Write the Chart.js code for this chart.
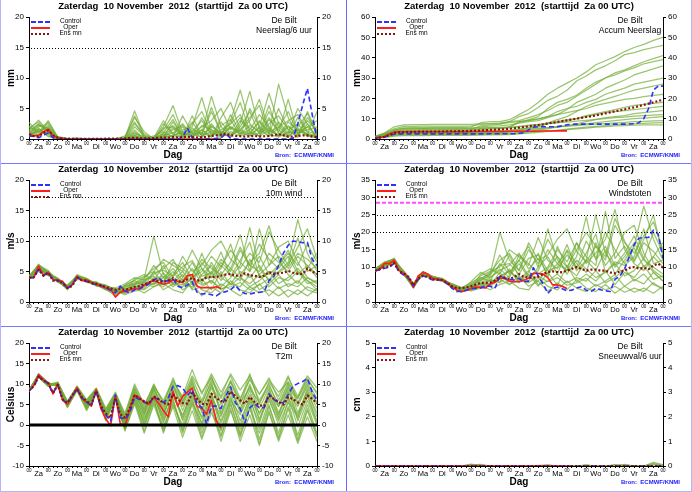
<!DOCTYPE html>
<html><head><meta charset="utf-8">
<script src="https://cdn.jsdelivr.net/npm/chart.js@4.4.0/dist/chart.umd.min.js"></script>
<style>
html,body{margin:0;padding:0;background:#fff;}
#wrap{position:relative;width:692px;height:492px;overflow:hidden;background:#fff;}
.pn{position:absolute;}
.pn canvas{display:block;}
.ln{position:absolute;}
</style></head><body>
<div id="wrap">
 <div class="pn" style="left:0;top:0"><canvas id="c1" width="346" height="163"></canvas></div>
 <div class="pn" style="left:346px;top:0"><canvas id="c2" width="346" height="163"></canvas></div>
 <div class="pn" style="left:0;top:163px"><canvas id="c3" width="346" height="163"></canvas></div>
 <div class="pn" style="left:346px;top:163px"><canvas id="c4" width="346" height="163"></canvas></div>
 <div class="pn" style="left:0;top:326px"><canvas id="c5" width="346" height="166"></canvas></div>
 <div class="pn" style="left:346px;top:326px"><canvas id="c6" width="346" height="166"></canvas></div>
 <div class="ln" style="left:346px;top:0;width:1px;height:492px;background:#6a6aff"></div>
 <div class="ln" style="left:0;top:163px;width:692px;height:1px;background:#7a7aff"></div>
 <div class="ln" style="left:0;top:326px;width:692px;height:1px;background:#7a7aff"></div>
 <div class="ln" style="left:0;top:0;width:1px;height:492px;background:#b4b4ff"></div>
 <div class="ln" style="left:691px;top:0;width:1px;height:492px;background:#b4b4ff"></div>
 <div class="ln" style="left:0;top:491px;width:692px;height:1px;background:#b4b4ff"></div>
</div>
<script>
// ---------- labels ----------
const DAYS = ['Za','Zo','Ma','Di','Wo','Do','Vr','Za','Zo','Ma','Di','Wo','Do','Vr','Za'];
const TITLE = 'Zaterdag  10 November  2012  (starttijd  Za 00 UTC)';
const LEGEND = ['Control','Oper','Ens mn'];

// ---------- Neerslag/6 uur (mm), main lines every 6 h, members every 12 h ----------
const precipControl = [0.5,0.4,0.2,0.6,1.0,0.2,0,0,0,0,0,0,0,0,0,0,0,0,0,0,0,0,0,0,0,0,0,0,0,0,0,0,0.3,1.8,0.2,0,0,0,0,0.1,0.2,0.9,0.1,0,0,0,0,0,0,0,0,0,0,0,0,0.1,2.5,5.5,8.3,4.0,0];
const precipOper = [0.8,0.5,0.6,1.2,1.6,0.5,0.2,0.1,0,0,0,0,0,0,0,0,0,0,0,0,0,0,0,0,0,0,0,0,0,0,0,0,0,0,0,0,0,0,0,0,0];
const precipMean = [0.8,0.5,0.4,1.0,1.4,0.6,0.2,0.1,0.05,0.05,0.03,0.03,0.02,0.02,0.02,0.03,0.05,0.05,0.08,0.08,0.1,0.15,0.2,0.15,0.1,0.12,0.15,0.2,0.25,0.2,0.3,0.25,0.3,0.35,0.3,0.25,0.3,0.35,0.5,0.6,0.7,0.9,0.6,0.5,0.45,0.4,0.45,0.5,0.4,0.45,0.5,0.6,0.8,0.6,0.4,0.4,0.5,0.6,0.6,0.4,0.3];
const precipMembers = [
 [1.0,2.5,0.8,0.2,0,0,0,0,0,0,0.2,4.6,0.5,0.2,0.8,2.2,0.5,1.2,3.0,0.6,1.5,2.5,4.0,1.0,0.5,3.2,1.5,0.3,2.0,4.2,0.5],
 [2.7,1.0,3.0,0.3,0,0.1,0,0,0,0,0,3.8,0.3,0,2.0,5.5,1.0,0.4,1.0,7.0,2.0,0.5,1.5,3.5,5.5,0.8,0.3,1.2,0.5,2.5,0.2],
 [0.5,1.5,1.8,0.1,0,0,0,0,0,0,0,1.5,0,0.5,1.2,0.3,3.8,1.0,0.2,2.2,0.8,3.0,8.0,2.5,1.0,1.8,0.5,2.8,1.5,0.4,1.0],
 [1.5,3.1,1.2,0.4,0.1,0,0,0,0,0,0,0.5,0.2,0,0.3,2.8,0.5,2.5,4.5,1.0,0.2,1.2,0.5,5.0,2.0,7.5,2.5,0.6,3.5,1.0,0.3],
 [0.8,2.0,2.5,0.2,0,0,0,0,0,0,0,2.5,0.8,0.1,0.5,1.0,2.5,0.5,1.5,0.3,3.5,6.0,1.5,0.8,3.0,1.0,9.0,3.5,0.7,2.0,0.5],
 [1.2,0.5,1.5,0.2,0,0,0,0,0,0,0,0.3,0,0.2,3.0,0.8,0.3,3.8,0.5,2.0,1.0,0.3,2.5,7.8,1.5,0.5,1.8,4.5,1.0,3.0,1.5],
 [0.3,1.8,0.5,0.1,0,0,0,0,0,0,0.5,3.5,1.2,0,0.2,0.5,1.5,2.0,6.8,1.5,0.5,2.0,0.8,1.5,4.0,2.0,0.5,1.0,5.0,2.5,0.2],
 [2.0,1.2,2.2,0.3,0,0,0,0.1,0,0,0,1.0,0.2,0.3,1.5,4.0,0.5,0.8,2.0,3.0,5.0,1.5,3.5,0.5,1.0,4.5,2.0,0.5,1.5,0.8,4.5],
 [0.6,1.3,0.8,0,0,0,0,0,0,0,0,0.2,0,0,0.5,1.8,0.3,1.5,0.8,4.5,1.0,2.5,6.0,1.2,0.5,2.5,3.8,1.5,0.3,4.5,1.0],
 [1.8,2.8,1.0,0.2,0,0.2,0,0,0,0,0,2.0,0.5,0,2.5,0.8,2.0,0.3,1.5,0.5,2.8,0.8,1.5,3.0,6.5,1.5,0.5,2.0,1.0,1.5,2.0],
 [0.4,0.8,1.2,0.1,0,0,0,0,0,0,0,0.5,0,0,0.2,0.6,1.0,2.8,0.5,1.2,0.4,4.0,1.0,0.5,2.0,0.8,5.0,1.5,2.5,0.5,0.2],
 [1.0,2.2,1.8,0.3,0,0,0,0,0,0,0,1.2,0,0,1.0,3.2,0.2,0.5,3.5,0.8,1.2,0.5,2.0,4.5,0.8,3.5,1.0,6.5,0.8,2.0,3.0],
 [2.2,0.5,2.8,0.2,0,0,0,0,0,0,0,0.8,0.4,0,0.5,0.3,0.5,1.2,0.3,2.5,0.5,1.8,0.8,2.2,1.2,5.5,0.8,0.3,1.8,0.6,0.5],
 [0.7,1.6,0.4,0,0,0,0,0,0,0,0,0.3,0,0,0.2,1.5,2.2,0.8,1.0,0.4,2.2,3.2,0.5,1.0,2.8,1.0,2.0,3.0,4.0,1.2,0.8],
 [1.4,2.4,1.5,0.2,0,0,0,0,0,0,0.3,2.8,0.2,0,0.8,0.5,1.2,0.4,2.2,1.5,0.8,0.5,3.0,1.8,0.4,1.5,0.6,2.2,0.5,3.5,1.2],
 [0.9,1.1,2.0,0.1,0,0,0,0,0,0,0,0.6,0,0,1.8,2.0,0.8,1.8,0.6,5.2,1.0,2.0,1.2,0.6,1.8,0.4,2.8,1.0,1.5,0.8,0.3]
];

// ---------- Accum Neerslag (mm) ----------
const accControl = [0.5,0.8,1.0,1.8,2.3,2.5,2.5,2.5,2.5,2.5,2.5,2.5,2.5,2.5,2.5,2.5,2.5,2.5,2.5,2.5,2.5,2.5,2.5,2.5,2.6,2.6,2.6,2.6,2.6,2.6,2.8,3.0,4.5,5.8,6.0,6.0,6.0,6.0,6.1,6.5,7.0,7.2,7.3,7.3,7.3,7.3,7.3,7.3,7.3,7.3,7.3,7.3,7.3,7.4,7.5,8.0,10.0,15.0,24.0,26.0,26.0];
const accOper = [0.5,0.8,1.2,2.5,3.3,3.5,3.6,3.6,3.6,3.6,3.6,3.6,3.6,3.6,3.6,3.6,3.6,3.6,3.6,3.6,3.7,3.7,3.7,3.7,3.7,3.7,3.7,3.7,3.8,3.8,3.8,3.8,3.8,3.8,3.9,3.9,3.9,3.9,4.0,4.0,4.0];
const accMean = [0.5,0.7,1.0,2.0,3.0,3.3,3.4,3.5,3.5,3.6,3.6,3.6,3.7,3.7,3.7,3.8,3.8,3.8,3.9,3.9,4.0,4.1,4.2,4.3,4.5,4.6,4.7,4.8,5.0,5.3,5.6,5.9,6.2,6.6,6.9,7.2,7.6,8.0,8.4,8.8,9.2,9.6,10.0,10.4,10.8,11.2,11.6,12.1,12.6,13.1,13.6,14.1,14.6,15.1,15.6,16.2,16.8,17.4,18.0,18.7,19.3];
const accMembers = [
 [1.0,2.5,4.5,5.5,5.6,5.6,5.7,5.7,5.7,5.7,5.8,8.0,8.5,8.6,9.5,12.0,14.5,18.0,22.0,25.0,27.5,30.0,33.0,36.5,38.5,40.5,43.0,45.0,46.5,48.5,50.0],
 [0.8,2.0,3.5,4.2,4.3,4.3,4.3,4.4,4.4,4.4,4.5,6.5,7.0,7.2,8.5,11.0,12.5,15.5,19.0,21.0,24.0,28.5,31.0,34.0,36.0,38.5,41.5,42.5,44.0,45.0,46.0],
 [1.2,3.0,6.0,7.0,7.1,7.1,7.2,7.2,7.2,7.2,7.2,7.5,7.6,7.8,8.5,9.0,10.5,12.0,14.0,16.5,18.0,21.0,24.0,27.0,30.0,32.5,34.0,36.0,38.0,39.5,41.0],
 [0.5,1.8,3.0,3.8,3.8,3.9,3.9,3.9,4.0,4.0,4.0,5.2,5.5,5.5,6.0,8.0,9.5,11.0,15.0,18.0,19.5,21.5,25.0,28.0,30.0,31.5,33.5,35.0,37.0,38.0,39.0],
 [1.0,2.2,4.0,5.0,5.0,5.1,5.1,5.1,5.1,5.1,5.2,6.0,6.3,6.4,7.0,7.8,8.5,9.0,10.5,12.0,14.5,18.0,20.0,22.0,25.0,27.0,29.0,31.5,33.0,34.5,36.0],
 [0.6,1.5,2.5,3.0,3.0,3.0,3.1,3.1,3.1,3.1,3.1,4.5,5.0,5.0,5.8,8.5,9.2,10.0,11.0,13.5,15.0,16.0,18.0,19.5,22.0,23.5,25.0,27.0,28.0,29.0,30.0],
 [0.4,1.2,2.2,2.6,2.6,2.7,2.7,2.7,2.7,2.7,2.8,2.9,3.0,3.0,3.5,4.2,5.5,6.5,8.0,9.5,11.0,13.5,16.0,18.0,19.5,21.0,22.5,24.0,25.0,26.0,27.0],
 [1.4,2.8,5.0,6.2,6.2,6.3,6.3,6.3,6.3,6.3,6.4,7.2,7.5,7.6,8.0,8.6,9.0,9.8,11.0,12.0,13.0,14.0,15.0,16.5,17.5,18.5,19.5,20.0,20.8,21.5,22.0],
 [0.7,1.6,2.8,3.3,3.3,3.3,3.3,3.4,3.4,3.4,3.4,3.6,3.7,3.7,4.0,5.0,5.5,6.0,7.5,8.0,9.0,10.0,11.5,12.5,13.5,14.5,15.5,16.5,17.0,17.5,18.0],
 [0.9,2.0,3.8,4.5,4.5,4.6,4.6,4.6,4.6,4.6,4.7,5.0,5.2,5.2,5.5,6.0,6.8,7.2,7.8,8.5,9.5,10.0,11.0,12.0,13.0,13.5,14.0,14.5,15.0,15.5,16.0],
 [0.3,0.9,1.6,2.0,2.0,2.0,2.0,2.1,2.1,2.1,2.1,2.3,2.4,2.4,2.6,3.0,3.8,4.5,5.0,6.0,6.5,7.5,8.5,9.5,10.5,11.0,11.5,12.5,13.0,13.5,14.0],
 [1.1,2.3,4.2,5.2,5.2,5.2,5.3,5.3,5.3,5.3,5.3,5.5,5.6,5.6,5.8,6.2,6.5,7.0,7.5,8.0,8.3,8.8,9.2,9.6,10.0,10.5,10.8,11.2,11.5,11.8,12.0],
 [0.5,1.4,2.4,2.9,2.9,2.9,3.0,3.0,3.0,3.0,3.0,3.2,3.3,3.3,3.5,4.0,4.5,5.0,5.5,6.0,6.5,7.0,7.5,8.0,8.5,9.0,9.5,10.0,10.3,10.6,11.0],
 [0.8,1.8,3.2,3.8,3.8,3.8,3.8,3.9,3.9,3.9,3.9,4.0,4.1,4.1,4.3,4.6,5.0,5.3,5.6,6.0,6.3,6.6,7.0,7.3,7.6,7.9,8.2,8.5,8.7,8.9,9.0],
 [0.3,0.8,1.4,1.7,1.7,1.7,1.8,1.8,1.8,1.8,1.8,1.9,2.0,2.0,2.2,2.5,2.9,3.3,3.8,4.3,4.8,5.3,5.8,6.2,6.6,7.0,7.3,7.5,7.7,7.9,8.0],
 [0.6,1.2,2.0,2.4,2.4,2.4,2.4,2.4,2.5,2.5,2.5,2.6,2.6,2.7,2.9,3.1,3.4,3.7,4.0,4.3,4.6,5.0,5.4,5.8,6.1,6.4,6.6,6.8,6.9,7.0,7.0]
];

// ---------- 10m wind (m/s) ----------
const windControl = [4.0,4.0,5.5,4.3,4.8,3.8,3.5,3.2,2.2,2.8,4.2,3.5,3.4,3.0,2.9,2.7,2.4,1.9,1.5,2.6,1.8,1.5,2.0,2.2,2.5,3.0,3.6,4.0,3.3,3.5,3.8,2.6,2.3,2.8,3.3,1.6,1.3,1.4,1.2,1.0,1.5,1.7,2.0,2.7,1.8,1.4,1.3,1.5,1.6,1.7,3.5,4.2,6.0,8.0,9.3,10.0,9.9,9.7,9.8,7.0,6.0];
const windOper = [4.0,4.0,5.9,4.4,4.9,3.6,3.6,3.4,2.3,2.8,4.2,3.5,3.6,3.2,2.9,2.6,2.3,2.1,0.8,1.6,1.8,2.0,2.2,2.1,2.8,3.2,3.5,3.2,2.9,3.1,3.6,3.4,3.2,4.3,4.5,2.6,2.3,2.4,2.3,2.5,2.2];
const windMean = [4.0,4.1,5.3,4.3,4.8,3.5,3.5,3.1,2.3,2.6,4.0,3.6,3.5,3.1,3.0,2.7,2.5,2.2,2.0,2.2,2.0,2.2,2.5,2.6,2.9,3.2,3.6,3.4,3.3,3.5,3.9,3.4,3.3,3.7,3.9,3.5,3.6,4.0,4.1,4.1,4.3,4.5,4.6,4.3,4.3,4.7,4.4,4.3,4.1,4.3,4.9,4.6,4.7,4.8,5.1,4.8,4.6,4.6,5.5,5.0,4.6];
const windMembers = [
 [4.2,5.5,4.5,3.8,2.5,4.0,3.5,3.2,2.6,2.0,2.5,3.0,3.8,10.8,4.5,3.5,5.0,3.0,6.5,4.5,7.0,5.5,9.0,6.0,5.0,8.0,6.5,5.0,7.5,6.0,4.0],
 [3.8,5.8,5.0,3.5,2.0,4.5,3.8,3.0,2.2,1.5,2.0,2.8,3.2,4.5,5.5,7.0,4.0,6.5,3.5,5.0,2.5,4.0,6.0,12.2,5.5,3.5,6.0,8.5,5.0,3.5,2.5],
 [4.0,6.2,4.8,3.2,2.8,4.2,3.2,2.8,2.0,1.8,2.8,3.5,2.5,5.0,3.0,4.5,6.5,3.8,8.0,4.0,5.5,9.5,4.5,6.5,8.0,12.5,7.0,4.5,3.0,5.5,8.0],
 [4.1,5.3,4.3,3.6,2.2,3.8,3.6,2.6,2.4,1.2,1.8,2.0,2.8,3.0,4.0,2.5,3.5,5.5,3.0,6.5,4.0,3.0,5.0,4.0,6.0,3.5,5.0,6.5,13.5,8.0,5.0],
 [3.9,5.0,4.6,3.9,2.6,4.4,3.4,3.3,2.5,2.2,1.5,3.8,4.5,3.5,6.0,3.0,2.5,4.0,5.5,3.0,6.0,4.5,3.5,7.0,4.5,6.0,9.0,10.0,6.5,4.0,3.0],
 [4.3,6.0,5.2,3.3,2.4,4.1,3.7,2.9,2.1,1.0,2.2,2.5,3.0,2.5,3.5,5.0,3.0,2.5,4.5,6.0,3.5,5.5,4.0,2.5,3.5,5.0,3.0,4.0,5.5,3.5,2.0],
 [4.0,5.7,4.4,3.7,2.7,3.9,3.3,3.1,2.7,1.8,1.2,1.8,2.2,4.0,2.0,3.0,4.5,2.0,2.5,3.5,2.0,3.0,2.5,4.5,2.0,3.0,4.5,2.5,3.5,2.0,1.5],
 [4.1,5.4,4.7,3.4,2.3,4.3,3.9,3.0,2.3,1.6,2.6,3.2,4.0,5.5,6.5,4.0,7.5,5.0,6.0,8.5,10.0,7.0,5.5,8.0,6.5,11.5,8.5,6.0,9.0,12.0,7.0],
 [3.8,5.2,4.9,3.8,2.1,3.7,3.5,2.7,2.3,1.4,1.6,2.3,1.5,2.5,3.0,2.0,1.5,3.5,2.0,1.5,3.0,2.0,1.0,2.5,1.5,2.0,1.0,2.0,1.2,2.5,1.8],
 [4.2,6.1,4.5,3.5,2.5,4.0,3.6,2.8,2.6,2.1,2.4,3.0,3.5,6.0,4.0,5.5,3.5,4.5,7.0,5.5,4.5,6.5,11.0,5.0,7.5,4.5,6.0,8.0,6.0,9.5,6.5],
 [4.0,5.6,4.6,3.6,2.4,4.2,3.4,3.0,2.4,1.7,2.0,2.6,2.0,3.2,2.5,3.8,2.0,3.0,1.0,2.5,1.5,3.5,2.0,1.5,3.0,1.0,2.5,0.8,2.0,1.0,2.2],
 [4.1,5.9,4.8,3.5,2.3,4.1,3.7,2.9,2.0,1.5,2.7,3.6,4.2,5.0,7.0,6.0,5.0,8.5,5.5,4.0,6.5,5.0,8.5,6.0,9.5,7.0,5.5,7.5,4.5,6.0,4.5],
 [3.9,5.5,4.4,3.7,2.6,3.9,3.3,3.1,2.8,1.9,1.4,2.2,3.3,2.8,4.8,2.8,3.8,2.2,3.8,2.0,5.0,2.8,4.0,3.0,4.5,2.5,4.0,3.5,5.0,3.0,3.5],
 [4.0,6.0,4.9,3.4,2.2,4.3,3.8,2.7,2.5,2.3,3.0,4.0,3.6,4.2,3.2,6.5,5.5,4.0,5.0,7.5,5.8,8.5,6.5,5.0,12.0,6.0,7.5,5.5,8.0,7.0,5.5],
 [4.2,5.4,4.7,3.9,2.5,4.0,3.5,3.2,2.2,1.6,1.9,2.4,2.6,3.8,4.2,3.2,2.8,3.8,2.8,3.5,2.2,2.5,3.2,2.0,2.8,3.8,2.2,3.0,2.5,4.0,3.2],
 [3.9,5.8,4.5,3.6,2.4,4.2,3.6,2.9,2.3,1.7,2.1,2.9,3.4,4.8,5.2,4.2,5.8,6.8,4.2,4.8,8.2,4.2,6.8,9.8,4.0,5.0,4.8,6.0,10.5,5.0,6.0]
];

// ---------- Windstoten (m/s) ----------
const gustControl = [9.0,9.2,9.7,9.9,11.1,8.7,7.7,6.8,4.6,6.5,7.5,7.0,6.3,6.3,6.3,5.3,4.0,3.0,3.0,3.4,3.8,3.9,4.0,4.6,4.5,3.9,7.5,6.8,6.5,6.3,6.8,5.8,6.0,9.8,7.5,5.2,2.5,3.9,4.3,3.8,3.2,3.4,4.0,4.4,3.4,3.0,3.9,3.5,3.2,3.0,6.5,7.4,9.5,13.0,16.5,18.3,18.5,18.5,20.6,19.5,12.5];
const gustOper = [9.0,9.3,11.1,11.0,12.0,9.0,8.2,6.8,4.2,7.5,8.5,8.0,6.8,6.6,6.3,5.6,4.4,3.4,3.0,3.3,3.9,4.3,4.2,4.0,5.2,5.7,6.8,6.8,6.0,5.8,5.8,6.2,6.8,8.2,8.2,8.0,7.0,4.9,4.9,4.5,3.9];
const gustMean = [9.0,9.5,10.0,10.2,11.2,8.8,8.2,7.2,4.8,6.8,7.6,7.2,6.5,6.4,6.3,5.5,4.6,4.0,4.0,4.2,4.5,5.0,5.5,5.5,5.6,6.2,7.4,7.0,6.6,7.2,8.0,7.2,7.0,7.0,7.2,8.0,8.6,8.8,8.6,8.5,9.0,9.5,10.0,9.5,9.0,9.3,9.3,9.0,9.0,8.5,8.2,8.8,9.0,9.8,10.0,9.6,9.8,9.4,10.5,11.0,9.8];
const gustMembers = [
 [9.2,10.5,11.5,8.5,5.0,8.0,7.0,6.5,4.8,3.5,4.5,6.0,8.0,20.0,12.0,9.0,15.0,11.0,18.0,13.0,10.0,15.0,20.0,16.0,12.0,22.0,17.0,14.0,19.0,23.0,15.0],
 [9.0,10.8,12.2,8.0,4.5,8.8,6.5,6.0,4.2,3.2,4.0,5.5,7.0,9.0,10.5,14.0,9.5,12.5,8.0,11.0,14.5,9.0,12.0,25.0,14.0,10.0,13.0,17.0,12.0,10.0,8.0],
 [9.5,11.5,12.0,8.8,5.5,8.5,7.2,6.8,5.0,4.0,5.5,7.0,6.0,11.0,8.0,12.0,16.0,10.0,21.0,12.0,9.0,17.0,11.0,14.0,18.0,26.5,15.0,11.0,9.0,13.0,17.0],
 [9.0,11.0,11.8,8.2,4.0,8.2,6.8,6.2,4.5,2.8,3.8,4.5,5.5,7.0,9.0,6.0,8.5,14.0,7.0,16.0,10.0,7.5,12.0,9.0,15.0,8.0,12.0,16.0,27.5,18.0,12.0],
 [8.8,10.2,11.0,8.6,4.8,7.8,7.0,6.4,4.6,3.6,3.5,8.0,9.5,8.0,13.5,7.0,6.0,10.0,13.0,8.0,15.0,11.0,8.5,17.0,10.5,14.0,20.0,22.0,14.0,9.0,7.0],
 [9.3,11.2,12.5,7.8,4.4,8.6,7.4,6.6,4.4,3.0,4.6,5.0,6.5,5.5,7.5,11.0,7.0,6.0,9.5,13.0,8.0,12.0,9.5,7.0,8.5,11.0,7.5,9.0,12.5,8.5,6.0],
 [9.1,10.6,11.4,8.4,4.7,8.1,6.6,6.3,5.2,4.2,3.2,4.0,4.8,8.5,5.0,6.5,9.0,5.0,6.0,8.0,5.5,7.0,6.0,9.0,5.5,7.0,9.5,6.0,8.0,5.0,4.0],
 [9.0,10.9,12.0,8.0,4.2,8.4,7.1,6.1,4.3,3.3,5.0,6.5,8.5,12.0,14.0,9.0,17.0,12.0,13.5,18.0,21.0,14.5,11.5,16.0,13.0,24.0,17.5,12.0,18.0,25.0,13.0],
 [8.9,10.4,11.6,8.3,4.6,7.9,6.7,6.2,4.7,3.1,3.6,4.8,3.5,5.0,6.0,4.0,3.5,7.0,4.5,3.5,6.0,4.0,3.0,5.0,3.5,4.5,2.8,4.0,3.0,5.5,3.5],
 [9.4,11.3,12.3,8.7,5.2,8.7,7.3,6.7,5.1,3.8,4.8,6.2,7.5,13.5,8.5,12.0,7.5,9.0,15.0,11.0,9.0,13.0,24.5,12.0,16.0,10.5,14.0,19.0,12.5,20.0,14.0],
 [9.1,10.7,11.9,8.1,4.3,8.3,6.9,6.3,4.4,2.9,4.2,5.2,4.5,6.5,5.0,7.5,4.5,6.0,3.0,5.5,3.5,6.5,4.0,3.0,5.0,2.5,4.5,2.8,4.0,2.5,4.5],
 [9.2,11.0,12.1,8.5,4.9,8.0,7.1,6.5,4.9,3.4,5.2,7.5,8.8,10.0,15.0,13.0,10.5,18.5,12.0,9.5,13.5,10.0,17.5,12.5,20.0,15.0,11.0,15.5,10.0,13.0,10.0],
 [8.8,10.3,11.3,8.9,5.3,7.7,6.6,6.0,5.3,4.1,3.3,4.3,6.2,5.8,9.5,5.5,8.0,4.5,8.5,4.8,10.5,5.8,8.0,6.0,9.0,5.0,8.5,7.0,10.5,6.5,7.5],
 [9.3,11.4,12.4,7.9,4.1,8.6,7.3,6.6,4.5,3.7,5.8,8.5,7.0,9.5,7.0,13.5,11.0,8.0,10.0,15.0,11.5,17.0,13.0,10.5,26.0,12.5,16.0,11.5,17.0,14.5,11.0],
 [9.0,10.6,11.7,8.4,4.5,8.2,6.8,6.4,4.6,3.4,3.9,5.3,5.0,7.5,8.8,6.5,5.5,7.5,5.8,7.0,4.8,5.5,6.8,4.5,6.0,7.8,4.5,6.5,5.2,8.5,6.0],
 [9.2,10.9,11.6,8.3,4.7,8.4,7.0,6.3,4.8,3.6,4.4,6.8,8.0,10.5,11.0,8.0,12.5,13.5,9.0,10.0,16.5,9.5,14.0,19.5,8.5,11.5,10.5,13.0,21.0,11.0,12.0]
];

// ---------- T2m (Celsius) ----------
const tempControl = [8.4,9.3,11.8,11.0,10.0,7.8,9.8,6.2,5.3,7.0,8.8,6.6,5.6,4.8,8.4,4.2,2.5,1.0,7.3,1.8,1.4,3.0,6.8,6.2,5.6,5.3,6.8,6.2,5.5,6.5,9.4,9.6,9.1,7.2,8.5,5.2,4.3,0.2,4.6,4.6,4.0,7.0,9.3,5.4,4.0,0.5,4.2,5.2,4.2,4.2,7.6,6.2,5.6,5.4,7.4,9.5,10.1,10.6,11.4,8.0,6.0];
const tempOper = [8.4,9.6,12.3,11.0,10.3,7.6,10.0,6.0,5.1,7.0,9.1,6.5,5.6,4.6,8.6,3.9,1.5,-0.2,7.2,0.4,-0.3,4.0,7.3,6.7,5.5,5.0,6.8,5.3,3.5,2.0,8.2,4.6,7.0,8.0,9.0,4.6,4.0,2.6,6.0,1.0,-0.7];
const tempMean = [8.4,9.5,11.8,10.8,10.2,7.8,9.8,6.3,5.4,7.2,8.8,6.8,5.8,5.0,8.3,4.6,2.8,1.8,6.6,2.6,1.8,4.0,7.3,6.5,5.8,5.2,7.0,6.3,5.4,5.0,7.5,6.2,5.4,5.2,7.8,6.4,5.2,5.0,7.6,6.6,5.8,6.0,8.2,7.0,6.0,5.2,6.8,5.6,4.8,4.6,7.2,6.4,5.6,5.0,6.8,6.3,5.5,5.0,7.2,6.4,5.3];
const tempMembers = [
 [8.5,12.0,9.8,10.0,5.2,9.0,5.0,8.5,2.5,7.0,0.5,7.5,3.0,8.0,2.0,9.5,5.0,11.0,3.0,9.0,4.0,10.5,5.0,11.5,6.0,10.0,4.5,9.0,6.5,11.0,8.0],
 [8.3,12.4,10.2,9.5,4.5,8.6,4.0,8.0,1.5,6.5,-1.0,6.0,-1.5,5.5,-1.0,6.0,-2.0,5.0,-3.0,4.0,-4.0,3.5,-3.0,4.5,-4.5,3.5,-3.5,4.0,-4.0,3.5,-3.0],
 [8.6,11.8,9.5,10.3,5.8,9.3,6.0,8.8,3.5,7.6,2.5,9.5,4.5,9.8,5.5,10.5,7.0,13.5,7.5,12.5,8.0,12.0,6.5,11.0,7.5,11.5,6.0,11.5,7.0,12.0,9.0],
 [8.4,12.2,10.0,9.8,4.8,8.8,4.5,8.2,2.0,7.2,0.0,6.5,1.0,7.0,0.5,7.5,1.5,8.0,0.0,6.5,1.0,7.0,-1.0,6.0,0.5,7.5,2.0,8.5,1.0,7.0,0.5],
 [8.5,11.6,9.6,10.2,5.5,9.2,5.5,8.6,3.0,7.4,1.5,8.5,2.5,9.0,4.0,10.0,3.5,9.5,5.5,10.5,3.0,8.5,4.0,9.5,2.5,8.0,4.5,10.0,3.0,8.5,2.0],
 [8.2,12.5,10.4,9.3,4.2,8.5,3.5,7.8,1.0,6.2,-1.5,5.2,-2.0,5.0,-1.5,4.5,-3.0,3.5,-3.5,3.0,-2.5,4.0,-4.0,2.5,-5.0,3.0,-4.0,2.5,-4.5,2.0,-4.0],
 [8.6,12.1,9.9,10.1,5.0,9.1,5.2,8.4,2.8,7.0,1.0,7.2,1.5,6.5,2.5,8.5,1.0,7.0,2.0,8.0,0.5,6.0,2.5,7.5,1.5,6.5,0.0,5.5,2.0,7.5,1.0],
 [8.4,11.9,9.7,9.9,5.6,9.4,5.8,9.0,4.0,8.0,2.8,10.0,5.0,9.5,6.0,11.0,6.5,12.0,8.0,11.5,7.0,12.5,8.5,12.0,7.5,11.0,8.0,10.5,6.5,11.5,7.5],
 [8.5,12.3,10.1,9.6,4.6,8.7,4.2,8.1,1.8,6.8,-0.5,6.8,0.0,6.0,-0.5,5.5,-1.0,6.0,-2.0,5.0,-1.5,5.5,-2.5,4.0,-2.0,5.0,-3.0,4.5,-2.5,5.0,-2.0],
 [8.3,12.0,10.0,10.4,5.3,8.9,4.8,8.7,2.2,7.5,0.8,8.0,3.5,8.5,3.5,9.0,4.5,10.5,4.0,9.5,5.5,9.5,3.5,10.0,4.0,9.0,3.0,8.0,4.5,9.5,5.0],
 [8.4,12.2,9.8,9.7,4.9,9.0,4.6,8.3,2.4,6.9,0.2,7.0,2.0,7.5,1.5,7.0,2.5,7.5,1.5,7.0,2.0,8.0,1.0,6.5,3.0,7.0,1.5,6.5,2.5,8.0,3.0],
 [8.6,11.7,9.4,10.5,5.7,9.5,6.2,8.9,3.8,7.8,2.0,9.0,4.0,10.0,5.0,11.5,5.5,11.5,6.0,12.0,5.0,11.0,6.0,12.5,5.0,10.5,7.0,12.0,5.5,10.5,6.5],
 [8.5,12.4,10.3,9.4,4.4,8.4,3.8,7.9,1.2,6.4,-1.2,5.5,-0.5,6.5,-2.0,5.0,0.0,6.5,-1.0,6.0,-3.0,5.0,-2.0,5.5,-3.5,4.5,-2.0,6.0,-3.5,4.0,-2.5],
 [8.4,12.0,10.0,10.0,5.1,8.8,5.0,8.4,2.6,7.1,0.3,7.8,2.8,9.2,3.0,8.0,2.0,9.0,3.5,10.0,2.5,9.0,3.0,8.5,1.0,8.5,2.5,9.5,1.5,9.0,4.0],
 [8.3,12.3,10.1,9.8,4.7,9.0,4.4,8.0,2.1,6.6,-0.8,6.2,0.5,7.2,1.0,6.5,-1.5,5.5,0.5,7.5,-1.0,6.5,0.0,7.0,-1.0,6.0,1.0,7.0,-0.5,6.0,0.0],
 [8.5,11.9,9.6,10.1,5.4,9.2,5.4,8.6,3.2,7.3,1.8,8.8,3.8,8.8,4.5,9.8,6.0,10.0,5.0,11.0,6.5,10.5,5.5,9.0,5.5,9.5,5.0,10.5,5.0,10.0,5.5]
];

// ---------- Sneeuwval/6 uur (cm), all series every 12 h ----------
const snowControl = [0,0,0,0,0,0,0,0,0,0,0,0,0,0,0,0,0,0,0,0,0,0,0,0,0,0,0,0,0,0,0];
const snowOper = [0,0,0,0,0,0,0,0,0,0,0,0,0,0,0,0,0,0,0,0,0];
const snowMean = [0,0,0,0,0,0,0,0,0,0,0,0,0,0,0,0,0,0,0,0,0,0,0,0,0,0,0,0,0,0,0];
const snowMembers = [
 [0,0,0,0,0,0,0,0,0,0,0.06,0.05,0,0,0,0,0,0,0.05,0,0,0,0.04,0,0,0.06,0,0,0,0.15,0.05],
 [0,0,0,0,0,0,0,0,0,0,0.08,0.02,0,0,0,0,0,0,0,0,0,0,0,0,0,0,0.07,0,0,0.08,0],
 [0,0,0,0,0,0,0,0,0,0,0.04,0.07,0,0,0,0,0,0.03,0.04,0,0,0,0.05,0,0,0.04,0.05,0,0,0.1,0.02],
 [0,0,0,0,0,0,0,0,0,0,0,0,0,0,0,0,0,0,0,0,0,0,0,0,0,0,0.03,0,0,0,0]
];

// reference lines per panel
const precipThresholds = [15];
const windThresholds = [10.8, 13.9, 17.2];
const gustThresholds = [20, 25];
const gustAlarm = [28.5];
const tempZero = [0];

// ---------- drawing ----------
const FONT = '"Liberation Sans", Arial, Helvetica, sans-serif';
const X_TICKS = [];
for (let h = 0; h <= 360; h += 6) X_TICKS.push(h);

function lineDs(vals, step, color, width, dash) {
  return {
    data: vals.map((v, i) => ({x: i * step, y: v})),
    borderColor: color, borderWidth: width, borderDash: dash,
    pointRadius: 0, fill: false, tension: 0, borderCapStyle: 'butt', borderJoinStyle: 'round'
  };
}

function makePanel(id, p) {
  const canvas = document.getElementById(id);
  const W = canvas.width, H = canvas.height;
  const datasets = [
    lineDs(p.mean, p.step, '#8c1212', 2.2, [2, 2]),
    lineDs(p.control, p.step, '#2f2fff', 1.6, [5, 3]),
    lineDs(p.oper, p.step, '#ff1c1c', 1.6, []),
  ].concat(p.members.map(m => lineDs(m, p.memStep, 'rgba(112,172,52,0.7)', 1.25, [])));

  const yAxis = (pos) => ({
    type: 'linear', position: pos, min: p.yMin, max: p.yMax,
    afterFit: s => { s.width = 29; },
    ticks: { stepSize: p.yStep, font: { family: FONT, size: 8 }, color: '#000', padding: 2 },
    grid: { drawOnChartArea: false, tickLength: 3, color: '#000' },
    border: { color: '#000', width: 1 }
  });

  const deco = {
    id: 'deco',
    afterDatasetsDraw(chart) {
      const { ctx, chartArea: a, scales: { y } } = chart;
      ctx.save();
      (p.thresholds || []).forEach(t => {
        const py = Math.round(y.getPixelForValue(t)) + 0.5;
        ctx.strokeStyle = '#000'; ctx.lineWidth = 1; ctx.setLineDash([1, 2]);
        ctx.beginPath(); ctx.moveTo(a.left + 2, py); ctx.lineTo(a.right - 2, py); ctx.stroke();
      });
      (p.alarm || []).forEach(t => {
        const py = y.getPixelForValue(t);
        ctx.strokeStyle = '#ff4cff'; ctx.lineWidth = 2; ctx.setLineDash([4, 2]);
        ctx.beginPath(); ctx.moveTo(a.left + 1, py); ctx.lineTo(a.right - 1, py); ctx.stroke();
      });
      (p.zero || []).forEach(t => {
        const py = y.getPixelForValue(t);
        ctx.strokeStyle = '#000'; ctx.lineWidth = 3; ctx.setLineDash([]);
        ctx.beginPath(); ctx.moveTo(a.left, py); ctx.lineTo(a.right, py); ctx.stroke();
      });
      ctx.restore();
    },
    afterDraw(chart) {
      const { ctx, chartArea: a, scales: { x } } = chart;
      ctx.save();
      ctx.fillStyle = '#000';
      ctx.textAlign = 'center'; ctx.textBaseline = 'middle';
      // title
      ctx.font = 'bold 9.5px ' + FONT;
      ctx.fillText(TITLE, W / 2, 6.5);
      // legend
      const lg = [
        { y: 22, c: '#2f2fff', d: [5, 2] },
        { y: 28, c: '#ff1c1c', d: [] },
        { y: 34, c: '#8c1212', d: [2, 2] }
      ];
      lg.forEach((l, i) => {
        ctx.strokeStyle = l.c; ctx.lineWidth = 2; ctx.setLineDash(l.d);
        ctx.beginPath(); ctx.moveTo(31, l.y); ctx.lineTo(50, l.y); ctx.stroke();
        ctx.font = '6.5px ' + FONT;
        ctx.fillText(LEGEND[i], 70.5, l.y - 0.5);
      });
      ctx.setLineDash([]);
      // station + variable
      ctx.font = '8.5px ' + FONT;
      ctx.fillText('De Bilt', 284, 21);
      ctx.fillText(p.varName, 284, 31);
      // y title
      ctx.save();
      ctx.translate(11, (a.top + a.bottom) / 2);
      ctx.rotate(-Math.PI / 2);
      ctx.font = 'bold 10px ' + FONT;
      ctx.fillText(p.yTitle, 0, 0);
      ctx.restore();
      // x labels
      ctx.font = '4.5px ' + FONT;
      for (let d = 0; d <= 15; d++) ctx.fillText('00', x.getPixelForValue(d * 24), a.bottom + 4.5);
      ctx.font = '7.5px ' + FONT;
      DAYS.forEach((dn, d) => ctx.fillText(dn, x.getPixelForValue(d * 24 + 12), a.bottom + 7.8));
      ctx.font = 'bold 10px ' + FONT;
      ctx.fillText('Dag', W / 2, a.bottom + 16.5);
      ctx.font = 'bold 6px ' + FONT;
      ctx.fillStyle = '#1a1aff';
      ctx.textAlign = 'right';
      ctx.fillText('Bron:  ECMWF/KNMI', 334, a.bottom + 16.5);
      ctx.restore();
    }
  };

  new Chart(canvas, {
    type: 'line',
    data: { datasets },
    options: {
      responsive: false, animation: false, devicePixelRatio: 1, events: [],
      layout: { padding: { top: 17, left: 0, right: 0, bottom: 0 } },
      plugins: { legend: { display: false }, tooltip: { enabled: false }, title: { display: false } },
      scales: {
        x: {
          type: 'linear', min: 0, max: 360,
          afterBuildTicks: s => { s.ticks = X_TICKS.map(v => ({ value: v })); },
          afterFit: s => { s.height = H - p.bottom; },
          ticks: { display: false },
          grid: { drawOnChartArea: false, tickLength: 2, color: '#000' },
          border: { color: '#000', width: 1 }
        },
        y: yAxis('left'),
        y2: yAxis('right')
      }
    },
    plugins: [deco]
  });
}

makePanel('c1', { control: precipControl, oper: precipOper, mean: precipMean, members: precipMembers, step: 6, memStep: 12,
  yMin: 0, yMax: 20, yStep: 5, yTitle: 'mm', varName: 'Neerslag/6 uur', thresholds: precipThresholds, bottom: 139 });
makePanel('c2', { control: accControl, oper: accOper, mean: accMean, members: accMembers, step: 6, memStep: 12,
  yMin: 0, yMax: 60, yStep: 10, yTitle: 'mm', varName: 'Accum Neerslag', bottom: 139 });
makePanel('c3', { control: windControl, oper: windOper, mean: windMean, members: windMembers, step: 6, memStep: 12,
  yMin: 0, yMax: 20, yStep: 5, yTitle: 'm/s', varName: '10m wind', thresholds: windThresholds, bottom: 139 });
makePanel('c4', { control: gustControl, oper: gustOper, mean: gustMean, members: gustMembers, step: 6, memStep: 12,
  yMin: 0, yMax: 35, yStep: 5, yTitle: 'm/s', varName: 'Windstoten', thresholds: gustThresholds, alarm: gustAlarm, bottom: 139 });
makePanel('c5', { control: tempControl, oper: tempOper, mean: tempMean, members: tempMembers, step: 6, memStep: 12,
  yMin: -10, yMax: 20, yStep: 5, yTitle: 'Celsius', varName: 'T2m', zero: tempZero, bottom: 140 });
makePanel('c6', { control: snowControl, oper: snowOper, mean: snowMean, members: snowMembers, step: 12, memStep: 12,
  yMin: 0, yMax: 5, yStep: 1, yTitle: 'cm', varName: 'Sneeuwval/6 uur', bottom: 140 });
</script>
</body></html>
